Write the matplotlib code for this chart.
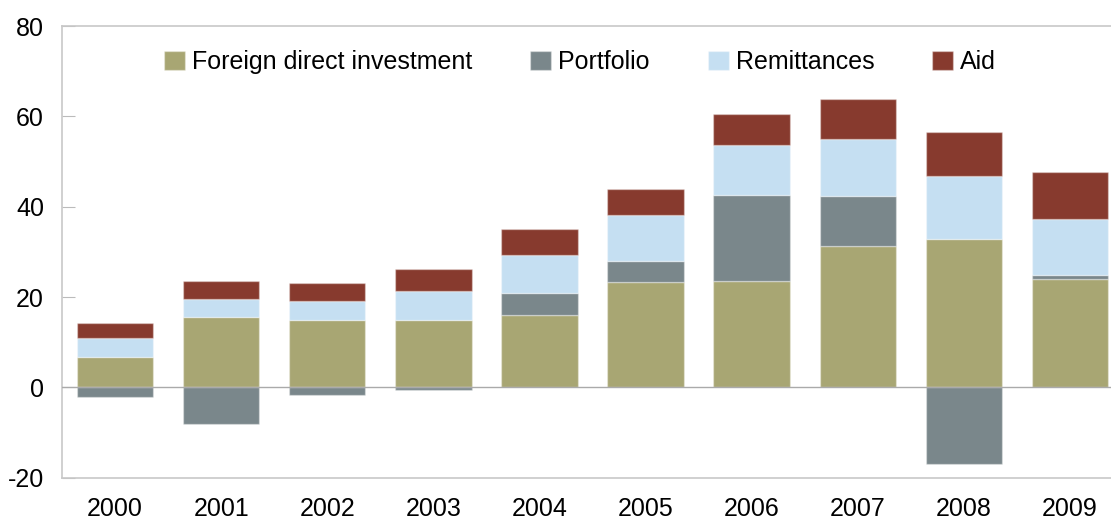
import matplotlib
matplotlib.use("Agg")
import matplotlib.pyplot as plt
import numpy as np

years = ["2000", "2001", "2002", "2003", "2004", "2005", "2006", "2007", "2008", "2009"]
fdi = [6.8, 15.6, 14.9, 14.9, 16.0, 23.3, 23.6, 31.4, 32.8, 23.9]
portfolio = [-2.2, -8.1, -1.8, -0.5, 5.0, 4.7, 18.9, 11.0, -16.9, 1.0]
remittances = [4.2, 3.9, 4.2, 6.4, 8.4, 10.1, 11.2, 12.5, 14.0, 12.4]
aid = [3.3, 4.0, 3.9, 4.8, 5.6, 5.8, 6.8, 8.9, 9.8, 10.4]

series = [
    ("Foreign direct investment", fdi, "#A8A673"),
    ("Portfolio", portfolio, "#7A878B"),
    ("Remittances", remittances, "#C5DFF2"),
    ("Aid", aid, "#873A2E"),
]

plt.rcParams['font.family'] = ['Liberation Sans', 'DejaVu Sans']
plt.rcParams['axes.unicode_minus'] = False

fig = plt.figure(figsize=(11.11, 5.23), dpi=100)
ax = fig.add_axes([62/1111, 1-477.7/523, 1061/1111, (477.7-26)/523])

x = np.arange(len(years))
pos_base = np.zeros(len(years))
neg_base = np.zeros(len(years))
for name, vals, col in series:
    v = np.array(vals, dtype=float)
    bottoms = np.where(v >= 0, pos_base, neg_base)
    ax.bar(x, v, bottom=bottoms, width=0.72, color=col, label=name,
           edgecolor=(1, 1, 1, 0.35), linewidth=1.0, zorder=2)
    pos_base = pos_base + np.where(v >= 0, v, 0)
    neg_base = neg_base + np.where(v < 0, v, 0)

ax.axhline(0, color="#AAAAAA", linewidth=1.0, zorder=3)

fs = 18
ax.set_xlim(-0.5, 9.5)
ax.set_ylim(-20, 80)
ax.set_yticks([-20, 0, 20, 40, 60, 80])
ax.set_xticks(x)
ax.set_xticklabels(years)
ax.tick_params(axis='y', direction='in', length=9, color="#BBBBBB", labelsize=fs, pad=13)
ax.tick_params(axis='x', length=0, labelsize=fs, pad=14)
for s in ["left", "top", "bottom", "right"]:
    ax.spines[s].set_color("#C8C8C8")
    ax.spines[s].set_linewidth(1.2)

px = fs * 100 / 72
leg = ax.legend(loc='center left', bbox_to_anchor=(164/1111, 1-62/523),
                bbox_transform=fig.transFigure, ncol=4, frameon=False,
                fontsize=fs, borderaxespad=0, borderpad=0,
                columnspacing=58/px, handlelength=21/px, handleheight=20/px,
                handletextpad=7/px)

fig.savefig("out.png", dpi=100)
